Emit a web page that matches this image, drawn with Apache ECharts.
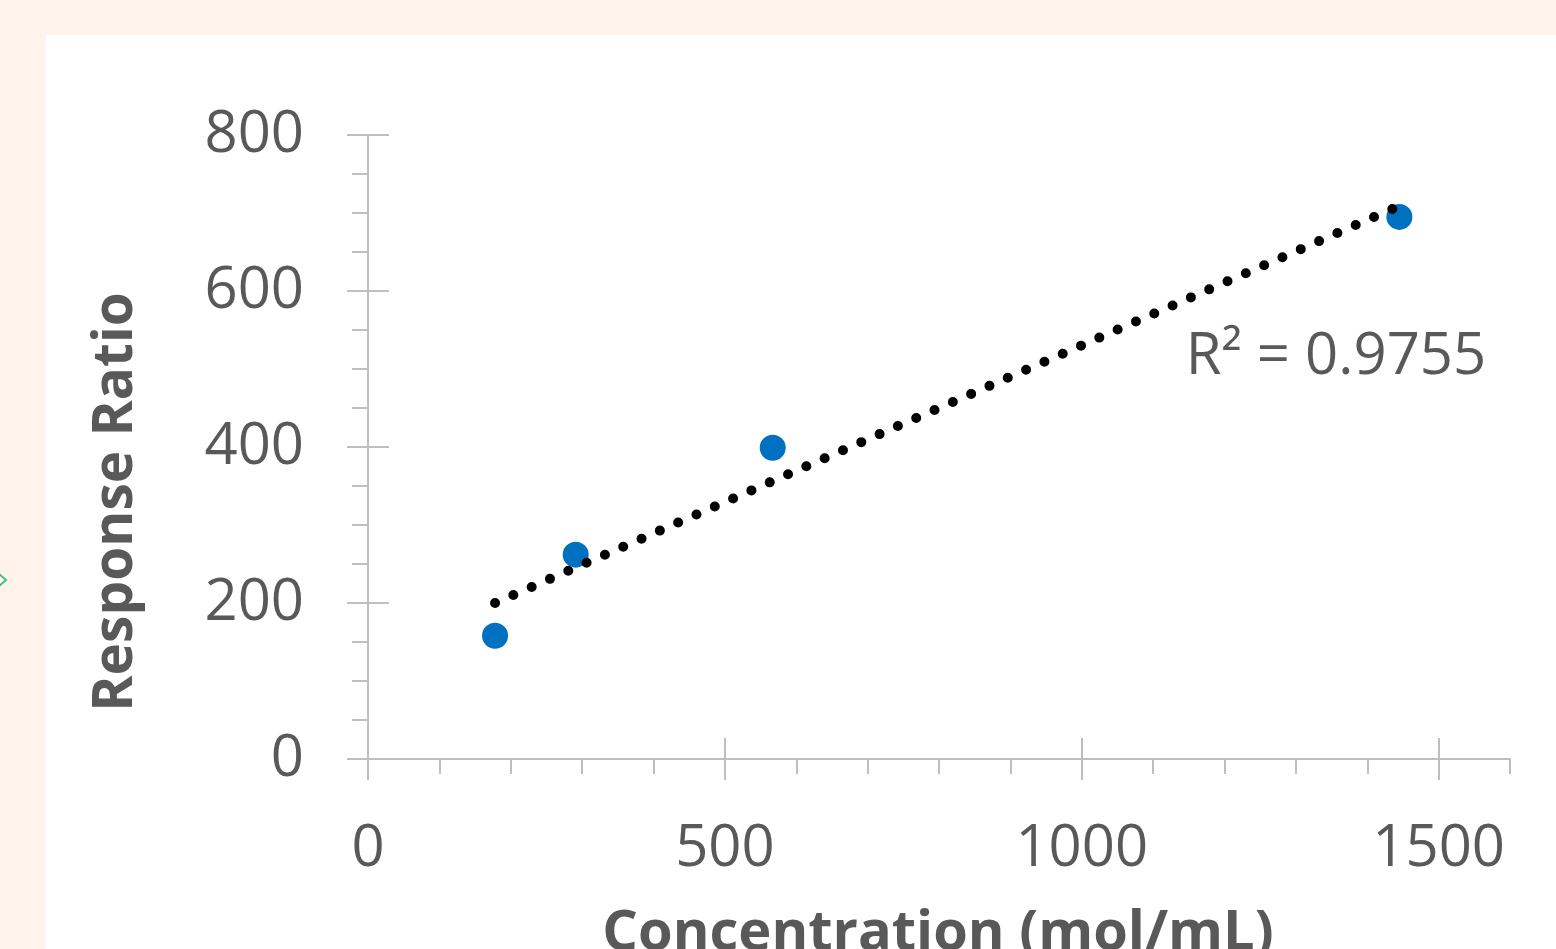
<!DOCTYPE html>
<html>
<head>
<meta charset="utf-8">
<title>Response Ratio vs Concentration</title>
<script src="https://cdn.jsdelivr.net/npm/echarts@6.0.0/dist/echarts.min.js"></script>
<style>
  html, body { margin: 0; padding: 0; background: #fff3ec; }
  #chart { width: 1556px; height: 949px; }
</style>
</head>
<body>
<div id="chart"></div>
<script>
// calibration points
const concentration = [178, 291, 567, 1445]
const responseRatio = [158, 262, 399, 695]

// dotted linear trendline end points (as drawn)
const trendX = [178, 1447]
const trendY = [200, 710]
const rSquared = '0.9755'

const xLabelValues = [0, 500, 1000, 1500]
const xMajorTicks = [0, 500, 1000, 1500]

const axisGray = '#bfbfbf'
const textGray = '#595959'
const font = '"Open Sans", "Noto Sans", sans-serif'

const chart = echarts.init(document.getElementById('chart'))

const baseX = { type: 'value', min: 0, max: 1600, position: 'bottom', splitLine: { show: false } }
const baseY = { type: 'value', min: 0, max: 800, interval: 200, position: 'left', splitLine: { show: false } }

const option = {
  backgroundColor: '#fff3ec',
  animation: false,
  grid: { left: 368, right: 46, top: 135, bottom: 190 },
  xAxis: [
    {
      ...baseX,
      interval: 100,
      axisLine: { lineStyle: { color: axisGray, width: 2 } },
      axisTick: { length: 15, lineStyle: { color: axisGray, width: 2 } },
      axisLabel: {
        margin: 61,
        fontSize: 58,
        fontFamily: font,
        color: textGray,
        formatter: v => (xLabelValues.includes(v) ? String(v) : '')
      }
    },
    {
      ...baseX,
      interval: 500,
      axisLine: { show: false },
      axisLabel: { show: false },
      axisTick: { length: 21, customValues: xMajorTicks, lineStyle: { color: axisGray, width: 2 } }
    },
    {
      ...baseX,
      interval: 500,
      axisLine: { show: false },
      axisLabel: { show: false },
      axisTick: { inside: true, length: 21, customValues: xMajorTicks, lineStyle: { color: axisGray, width: 2 } }
    }
  ],
  yAxis: [
    {
      ...baseY,
      axisLine: { show: true, lineStyle: { color: axisGray, width: 2 } },
      axisTick: { show: true, length: 21, lineStyle: { color: axisGray, width: 2 } },
      minorTick: { show: true, splitNumber: 4, length: 16, lineStyle: { color: axisGray, width: 2 } },
      axisLabel: { margin: 64, fontSize: 58, fontFamily: font, color: textGray }
    },
    {
      ...baseY,
      axisLine: { show: false },
      axisLabel: { show: false },
      axisTick: { show: true, inside: true, length: 21, lineStyle: { color: axisGray, width: 2 } }
    }
  ],
  series: [
    {
      name: 'Response Ratio',
      type: 'scatter',
      data: concentration.map((c, i) => [c, responseRatio[i]]),
      symbolSize: 26,
      itemStyle: { color: '#0070c0', opacity: 1 },
      z: 2
    },
    {
      name: 'Linear trend',
      type: 'line',
      data: trendX.map((x, i) => [x, trendY[i]]),
      showSymbol: false,
      lineStyle: { color: '#000', width: 10, type: [0, 20], cap: 'round' },
      z: 3
    }
  ],
  graphic: [
    {
      type: 'rect',
      left: 46, top: 35,
      shape: { width: 1510, height: 914 },
      style: { fill: '#ffffff' },
      z: -10
    },
    {
      type: 'polyline',
      shape: { points: [[-2, 573], [6, 580], [-2, 587]] },
      style: { stroke: '#3dbf8f', lineWidth: 2, fill: null },
      z: -5
    },
    {
      type: 'text',
      x: 1336, y: 357,
      style: {
        text: 'R² = ' + rSquared,
        font: '58px ' + font,
        fill: textGray,
        textAlign: 'center',
        textVerticalAlign: 'middle'
      }
    },
    {
      type: 'text',
      x: 116, y: 502,
      rotation: Math.PI / 2,
      style: {
        text: 'Response Ratio',
        font: 'bold 55px ' + font,
        fill: textGray,
        textAlign: 'center',
        textVerticalAlign: 'middle'
      }
    },
    {
      type: 'text',
      x: 938, y: 934,
      style: {
        text: 'Concentration (mol/mL)',
        font: 'bold 56px ' + font,
        fill: textGray,
        textAlign: 'center',
        textVerticalAlign: 'middle'
      }
    }
  ]
}

chart.setOption(option)
</script>
</body>
</html>
